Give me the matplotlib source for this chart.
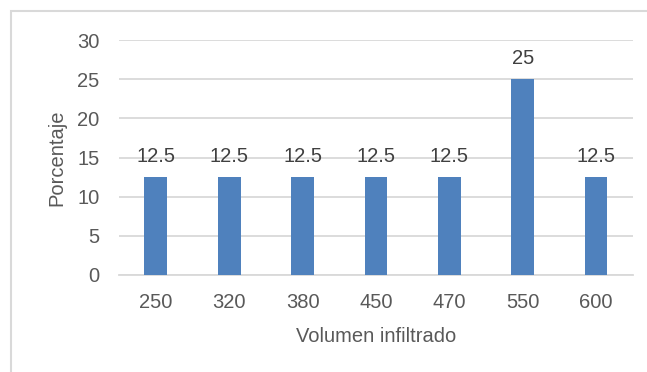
import matplotlib
matplotlib.use("Agg")
import matplotlib.pyplot as plt
from matplotlib.patches import Rectangle

volumes = ["250", "320", "380", "450", "470", "550", "600"]
percent = [12.5, 12.5, 12.5, 12.5, 12.5, 25, 12.5]
value_labels = ["12.5", "12.5", "12.5", "12.5", "12.5", "25", "12.5"]

BAR = "#4F81BD"
GRID = "#D9D9D9"
TEXT = "#595959"
FS = 14.5

plt.rcParams["font.family"] = ["Liberation Sans", "DejaVu Sans"]

fig = plt.figure(figsize=(6.47, 3.72), dpi=100)
ax = fig.add_axes([0.184, 0.261, 0.794, 0.631])

x = range(len(volumes))
bars = ax.bar(x, percent, width=0.31, color=BAR, zorder=3)
for rect, lab in zip(bars, value_labels):
    ax.annotate(lab, (rect.get_x() + rect.get_width() / 2, rect.get_height()),
                xytext=(0, 8), textcoords="offset points",
                ha="center", va="bottom", fontsize=FS, color="#404040")

ax.set_xlim(-0.5, len(volumes) - 0.5)
ax.set_ylim(0, 30)
ax.set_yticks(range(0, 31, 5))
ax.set_xticks(list(x))
ax.set_xticklabels(volumes)
ax.yaxis.grid(True, color=GRID, lw=1.3, zorder=0)
ax.set_axisbelow(True)
for s in ["top", "right", "left"]:
    ax.spines[s].set_visible(False)
ax.spines["bottom"].set_color(GRID)
ax.spines["bottom"].set_linewidth(1.3)
ax.tick_params(length=0, labelsize=FS, colors=TEXT)
ax.tick_params(axis="x", pad=13)
ax.tick_params(axis="y", pad=14)

ax.set_ylabel("Porcentaje", fontsize=FS, color=TEXT, va="center")
ax.yaxis.set_label_coords(-0.121, 0.5)
ax.set_xlabel("Volumen infiltrado", fontsize=FS, color=TEXT, labelpad=11)

# chart area outline (left and top edges visible in frame)
fig.patches.append(Rectangle((11 / 647, -0.1), 1.2, 1 - 11 / 372 + 0.1,
                             transform=fig.transFigure, fill=False,
                             edgecolor=GRID, lw=1.5))

fig.savefig("out.png", dpi=100)
